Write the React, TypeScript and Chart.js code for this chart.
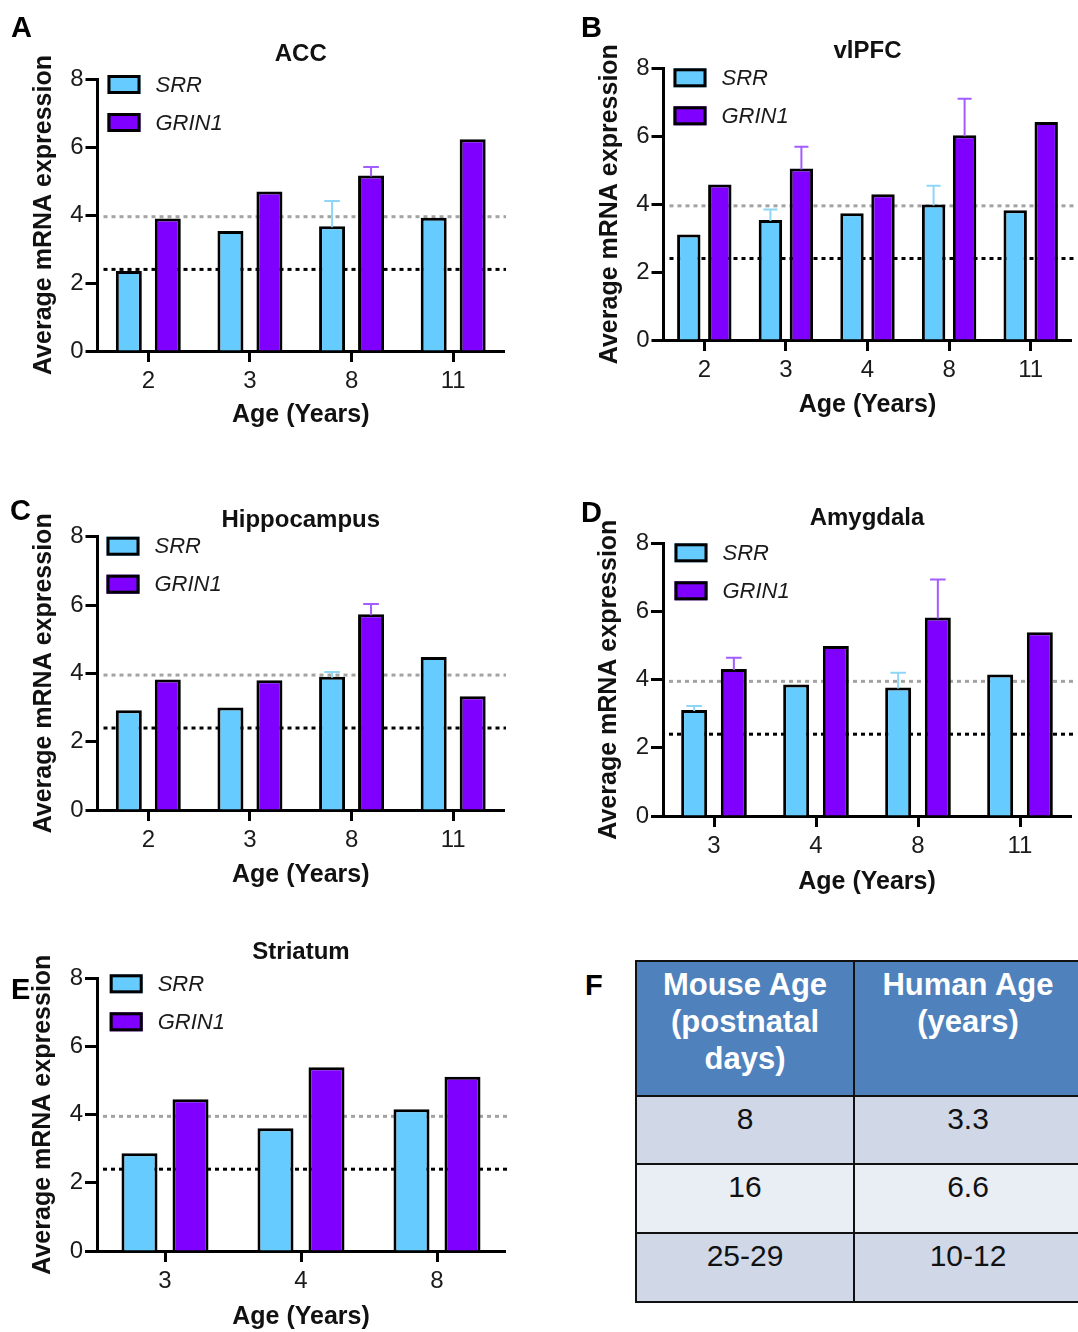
import React, { useEffect, useRef } from "react";
import { Chart, registerables } from "chart.js";

Chart.register(...registerables);

const FONT = "'Liberation Sans', Arial, Helvetica, sans-serif";
Chart.defaults.font.family = FONT;

// ---------- shared ----------
const seriesNames = ["SRR", "GRIN1"];
const srrFill = "#66CCFF";
const grin1Fill = "#8000FF";
const srrErrColor = "#8ED6F8";
const grin1ErrColor = "#A35CFF";
const yTicks = [0, 2, 4, 6, 8];
const refLineValues = [3.95, 2.4];
const refLineColors = ["#A3A3A3", "#000000"];
const yAxisTitle = "Average mRNA expression";
const xAxisTitle = "Age (Years)";

// ---------- A: ACC ----------
const accAges = ["2", "3", "8", "11"];
const accSRR = [2.35, 3.53, 3.67, 3.92];
const accGRIN1 = [3.9, 4.69, 5.16, 6.23];
const accSRRErr = [null, null, 0.74, null];
const accGRIN1Err = [null, null, 0.25, null];

// ---------- B: vlPFC ----------
const vlpfcAges = ["2", "3", "4", "8", "11"];
const vlpfcSRR = [3.11, 3.53, 3.73, 3.99, 3.82];
const vlpfcGRIN1 = [4.58, 5.05, 4.29, 6.03, 6.42];
const vlpfcSRRErr = [null, 0.31, null, 0.55, null];
const vlpfcGRIN1Err = [null, 0.64, null, 1.07, null];

// ---------- C: Hippocampus ----------
const hipAges = ["2", "3", "8", "11"];
const hipSRR = [2.92, 3.0, 3.9, 4.48];
const hipGRIN1 = [3.82, 3.8, 5.73, 3.33];
const hipSRRErr = [null, null, 0.14, null];
const hipGRIN1Err = [null, null, 0.3, null];

// ---------- D: Amygdala ----------
const amyAges = ["3", "4", "8", "11"];
const amySRR = [3.11, 3.86, 3.77, 4.15];
const amyGRIN1 = [4.31, 4.99, 5.82, 5.39];
const amySRRErr = [0.12, null, 0.43, null];
const amyGRIN1Err = [0.33, null, 1.12, null];

// ---------- E: Striatum ----------
const strAges = ["3", "4", "8"];
const strSRR = [2.87, 3.6, 4.16];
const strGRIN1 = [4.45, 5.39, 5.11];
const strSRRErr = [null, null, null];
const strGRIN1Err = [null, null, null];

// ---------- F: table ----------
const tableHeaders = ["Mouse Age (postnatal days)", "Human Age (years)"];
const mouseAges = ["8", "16", "25-29"];
const humanAges = ["3.3", "6.6", "10-12"];

// ---------- plugins ----------
const refLinesPlugin = {
  id: "refLines",
  beforeDatasetsDraw(chart: any) {
    const { ctx, chartArea, scales } = chart;
    ctx.save();
    refLineValues.forEach((v, i) => {
      const y = scales.y.getPixelForValue(v);
      ctx.beginPath();
      ctx.strokeStyle = refLineColors[i];
      ctx.lineWidth = 3;
      ctx.setLineDash([4, 4]);
      ctx.moveTo(chartArea.left + 6, y);
      ctx.lineTo(chartArea.right + 2, y);
      ctx.stroke();
    });
    ctx.restore();
  },
};

const errorBarsPlugin = {
  id: "errorBars",
  afterDatasetsDraw(chart: any) {
    const { ctx, scales } = chart;
    chart.data.datasets.forEach((ds: any, di: number) => {
      const meta = chart.getDatasetMeta(di);
      const errs = ds.errorBars || [];
      meta.data.forEach((bar: any, j: number) => {
        const e = errs[j];
        if (e == null) return;
        const v = ds.data[j];
        const yTop = scales.y.getPixelForValue(v + e);
        const yBase = scales.y.getPixelForValue(v);
        const cap = bar.width * 0.6;
        ctx.save();
        ctx.strokeStyle = ds.errorColor;
        ctx.lineWidth = 2;
        ctx.beginPath();
        ctx.moveTo(bar.x, yBase + 1);
        ctx.lineTo(bar.x, yTop);
        ctx.moveTo(bar.x - cap / 2, yTop);
        ctx.lineTo(bar.x + cap / 2, yTop);
        ctx.stroke();
        ctx.restore();
      });
    });
  },
};

const boxLegendPlugin = {
  id: "boxLegend",
  afterDraw(chart: any, _args: any, opts: any) {
    const { ctx, chartArea } = chart;
    const x0 = chartArea.left + opts.dx;
    let y = chartArea.top + opts.dy;
    chart.data.datasets.forEach((ds: any) => {
      ctx.save();
      ctx.fillStyle = ds.backgroundColor;
      ctx.fillRect(x0, y, 33, 19);
      ctx.strokeStyle = "#000";
      ctx.lineWidth = 3;
      ctx.strokeRect(x0 + 1.5, y + 1.5, 30, 16);
      ctx.font = `italic 22px ${FONT}`;
      ctx.fillStyle = "#1a1a1a";
      ctx.textBaseline = "middle";
      ctx.textAlign = "left";
      ctx.fillText(ds.label, x0 + 33 + 15, y + 10.5);
      ctx.restore();
      y += 38;
    });
  },
};

type PanelCfg = {
  left: number;
  top: number;
  width: number;
  height: number;
  title: string;
  ages: string[];
  srr: number[];
  grin1: number[];
  srrErr: (number | null)[];
  grin1Err: (number | null)[];
  padLeft: number;
  padRight: number;
  yAxisW: number;
  xAxisH: number;
  titlePadTop: number;
  titlePadBottom: number;
  yTitlePad: number;
  xTitlePad: number;
  catPct: number;
  barPct: number;
  legendDx: number;
  legendDy: number;
};

const panels: PanelCfg[] = [
  {
    left: 0, top: 0, width: 540, height: 440, title: "ACC",
    ages: accAges, srr: accSRR, grin1: accGRIN1, srrErr: accSRRErr, grin1Err: accGRIN1Err,
    padLeft: 20, padRight: 36, yAxisW: 77.5, xAxisH: 89,
    titlePadTop: 39.6, titlePadBottom: 10.6, yTitlePad: 9, xTitlePad: 10,
    catPct: 0.767, barPct: 0.667, legendDx: 10, legendDy: -4,
  },
  {
    left: 540, top: 0, width: 538, height: 440, title: "vlPFC",
    ages: vlpfcAges, srr: vlpfcSRR, grin1: vlpfcGRIN1, srrErr: vlpfcSRRErr, grin1Err: vlpfcGRIN1Err,
    padLeft: 20, padRight: 6.5, yAxisW: 103.5, xAxisH: 100,
    titlePadTop: 37.3, titlePadBottom: 2.2, yTitlePad: 35, xTitlePad: 20,
    catPct: 0.76, barPct: 0.755, legendDx: 10, legendDy: 0,
  },
  {
    left: 0, top: 490, width: 540, height: 420, title: "Hippocampus",
    ages: hipAges, srr: hipSRR, grin1: hipGRIN1, srrErr: hipSRRErr, grin1Err: hipGRIN1Err,
    padLeft: 20, padRight: 36, yAxisW: 77.5, xAxisH: 100,
    titlePadTop: 15.6, titlePadBottom: 2.3, yTitlePad: 9, xTitlePad: 20,
    catPct: 0.767, barPct: 0.667, legendDx: 9, legendDy: 0,
  },
  {
    left: 540, top: 490, width: 538, height: 420, title: "Amygdala",
    ages: amyAges, srr: amySRR, grin1: amyGRIN1, srrErr: amySRRErr, grin1Err: amyGRIN1Err,
    padLeft: 20, padRight: 7, yAxisW: 103, xAxisH: 94,
    titlePadTop: 13.6, titlePadBottom: 10.9, yTitlePad: 34.6, xTitlePad: 13.3,
    catPct: 0.778, barPct: 0.655, legendDx: 11.5, legendDy: 0,
  },
  {
    left: 0, top: 920, width: 540, height: 412, title: "Striatum",
    ages: strAges, srr: strSRR, grin1: strGRIN1, srrErr: strSRRErr, grin1Err: strGRIN1Err,
    padLeft: 20, padRight: 35, yAxisW: 77, xAxisH: 81,
    titlePadTop: 17.6, titlePadBottom: 11.9, yTitlePad: 8, xTitlePad: 0.3,
    catPct: 0.75, barPct: 0.706, legendDx: 12.7, legendDy: -4,
  },
];

function BarPanel({ cfg }: { cfg: PanelCfg }) {
  const ref = useRef<HTMLCanvasElement>(null);
  useEffect(() => {
    const chart = new Chart(ref.current as HTMLCanvasElement, {
      type: "bar",
      data: {
        labels: cfg.ages,
        datasets: [
          {
            label: seriesNames[0],
            data: cfg.srr,
            backgroundColor: srrFill,
            borderColor: "#000",
            borderWidth: 3,
            errorBars: cfg.srrErr,
            errorColor: srrErrColor,
          } as any,
          {
            label: seriesNames[1],
            data: cfg.grin1,
            backgroundColor: grin1Fill,
            borderColor: "#000",
            borderWidth: 3,
            errorBars: cfg.grin1Err,
            errorColor: grin1ErrColor,
          } as any,
        ],
      },
      options: {
        responsive: false,
        animation: false,
        devicePixelRatio: 1,
        layout: { padding: { left: cfg.padLeft, right: cfg.padRight, top: 0, bottom: 0 } },
        datasets: { bar: { categoryPercentage: cfg.catPct, barPercentage: cfg.barPct } },
        plugins: {
          legend: { display: false },
          tooltip: { enabled: false },
          title: {
            display: true,
            text: cfg.title,
            fullSize: false,
            color: "#111",
            font: { size: 24, weight: "bold" },
            padding: { top: cfg.titlePadTop, bottom: cfg.titlePadBottom },
          },
          boxLegend: { dx: cfg.legendDx, dy: cfg.legendDy },
        } as any,
        scales: {
          x: {
            type: "category",
            offset: true,
            grid: { offset: false, drawOnChartArea: false, tickLength: 11, tickWidth: 3, tickColor: "#000" },
            border: { display: true, color: "#000", width: 3 },
            ticks: { font: { size: 24 }, color: "#1a1a1a", padding: 5, maxRotation: 0 },
            title: {
              display: true,
              text: xAxisTitle,
              color: "#111",
              font: { size: 25, weight: "bold" },
              padding: { top: 0, bottom: cfg.xTitlePad },
            },
            afterFit: (s: any) => {
              s.height = cfg.xAxisH;
            },
          },
          y: {
            min: 0,
            max: 8,
            afterBuildTicks: (s: any) => {
              s.ticks = yTicks.map((v) => ({ value: v }));
            },
            grid: { drawOnChartArea: false, tickLength: 12, tickWidth: 3, tickColor: "#000" },
            border: { display: true, color: "#000", width: 3 },
            ticks: { font: { size: 24 }, color: "#1a1a1a", padding: 2 },
            title: {
              display: true,
              text: yAxisTitle,
              color: "#111",
              font: { size: 25, weight: "bold" },
              padding: { top: cfg.yTitlePad, bottom: 0 },
            },
            afterFit: (s: any) => {
              s.width = cfg.yAxisW;
            },
          },
        } as any,
      },
      plugins: [refLinesPlugin, errorBarsPlugin, boxLegendPlugin],
    });
    return () => chart.destroy();
  }, []);
  return (
    <div style={{ position: "absolute", left: cfg.left, top: cfg.top, width: cfg.width, height: cfg.height }}>
      <canvas ref={ref} width={cfg.width} height={cfg.height} style={{ width: cfg.width, height: cfg.height, display: "block" }} />
    </div>
  );
}

const letterStyle = (left: number, top: number): React.CSSProperties => ({
  position: "absolute",
  left,
  top,
  fontFamily: FONT,
  fontWeight: "bold",
  fontSize: 29,
  lineHeight: "29px",
  color: "#000",
  zIndex: 2,
});

const rowBgs = ["#D0D8E8", "#E9EDF4", "#D0D8E8"];
const rowHeights = [68, 69, 69];

function AgeTable() {
  const cellBorder = "2.5px solid #111";
  return (
    <table
      style={{
        position: "absolute",
        left: 635,
        top: 960,
        width: 446,
        borderCollapse: "collapse",
        tableLayout: "fixed",
        fontFamily: FONT,
      }}
    >
      <colgroup>
        <col style={{ width: 218 }} />
        <col style={{ width: 228 }} />
      </colgroup>
      <thead>
        <tr style={{ height: 135 }}>
          {tableHeaders.map((h) => (
            <th
              key={h}
              style={{
                background: "#4F81BD",
                color: "#fff",
                fontSize: 31,
                lineHeight: "37px",
                fontWeight: "bold",
                verticalAlign: "top",
                textAlign: "center",
                padding: "4px 10px 0 10px",
                border: cellBorder,
              }}
            >
              {h}
            </th>
          ))}
        </tr>
      </thead>
      <tbody>
        {mouseAges.map((m, i) => (
          <tr key={m} style={{ height: rowHeights[i], background: rowBgs[i] }}>
            {[m, humanAges[i]].map((t, k) => (
              <td
                key={k}
                style={{
                  fontSize: 30,
                  lineHeight: "33px",
                  color: "#111",
                  verticalAlign: "top",
                  textAlign: "center",
                  padding: "5px 0 0 0",
                  border: cellBorder,
                }}
              >
                {t}
              </td>
            ))}
          </tr>
        ))}
      </tbody>
    </table>
  );
}

export default function App() {
  return (
    <div
      style={{
        position: "absolute",
        left: 0,
        top: 0,
        width: 1078,
        height: 1332,
        overflow: "hidden",
        background: "#fff",
      }}
    >
      {panels.map((p) => (
        <BarPanel key={p.title} cfg={p} />
      ))}
      <AgeTable />
      <div style={letterStyle(11, 13)}>A</div>
      <div style={letterStyle(581, 13)}>B</div>
      <div style={letterStyle(10, 496)}>C</div>
      <div style={letterStyle(581, 498)}>D</div>
      <div style={letterStyle(11, 975)}>E</div>
      <div style={letterStyle(585, 971)}>F</div>
    </div>
  );
}
